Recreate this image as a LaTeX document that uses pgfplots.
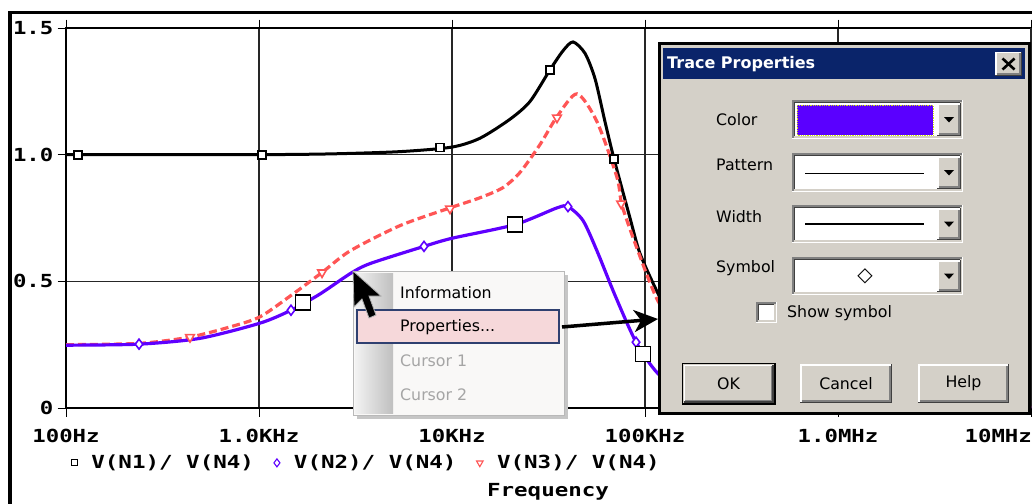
\documentclass[border=0pt]{standalone}
\usepackage{pgfplots}
\pgfplotsset{compat=1.18}
\usepackage{fontspec}
\usetikzlibrary{arrows.meta}
\newfontfamily\psfont[FakeStretch=1.24]{DejaVu Sans Mono}
\newfontfamily\lgfont[FakeStretch=1.25]{DejaVu Sans Mono}
\newfontfamily\winfont{DejaVu Sans}
\newcommand\psf{\psfont\bfseries\fontsize{18}{18}\selectfont}
\newcommand\lgf{\lgfont\bfseries\fontsize{18}{18}\selectfont}
\newcommand\wf{\winfont\fontsize{15.8}{16}\selectfont}
\definecolor{bluetr}{RGB}{95,0,255}
\definecolor{redtr}{RGB}{255,85,85}
\definecolor{dlg}{RGB}{212,208,200}
\definecolor{navy}{RGB}{10,36,106}
\definecolor{btnshadow}{RGB}{128,128,128}
\definecolor{btndark}{RGB}{64,64,64}
\definecolor{menubg}{RGB}{249,248,247}
\definecolor{hilite}{RGB}{246,216,218}
\definecolor{hiborder}{RGB}{47,64,112}
\definecolor{graytext}{RGB}{165,165,165}
\definecolor{purplebox}{RGB}{90,0,255}
\newcommand\sunken[4]{%
  \fill[white] (#1,#2) rectangle (#3,#4);
  \draw[btnshadow,line width=1.5pt] (#1+0.75,#4) -- (#1+0.75,#2+0.75) -- (#3,#2+0.75);
  \draw[btndark,line width=1.5pt] (#1+2.25,#4-1.5) -- (#1+2.25,#2+2.25) -- (#3-1.5,#2+2.25);
  \draw[white,line width=1.5pt] (#1,#4-0.75) -- (#3-0.75,#4-0.75) -- (#3-0.75,#2);
  \draw[dlg,line width=1.5pt] (#1+1.5,#4-2.25) -- (#3-2.25,#4-2.25) -- (#3-2.25,#2+1.5);
}
\newcommand\raised[4]{%
  \fill[dlg] (#1,#2) rectangle (#3,#4);
  \draw[white,line width=1.5pt] (#1+0.75,#4-1.5) -- (#1+0.75,#2+0.75) -- (#3-1.5,#2+0.75);
  \draw[btndark,line width=1.5pt] (#1,#4-0.75) -- (#3-0.75,#4-0.75) -- (#3-0.75,#2);
  \draw[btnshadow,line width=1.5pt] (#1+1.5,#4-2.25) -- (#3-2.25,#4-2.25) -- (#3-2.25,#2+1.5);
}
\newcommand\dropbtn[3]{%
  \raised{#1}{#2}{#1+24}{#3}
  \fill[black] (#1+7,{(#2+#3)/2-2.5}) -- (#1+17,{(#2+#3)/2-2.5}) -- (#1+12,{(#2+#3)/2+3}) -- cycle;
}
\begin{document}
\begin{tikzpicture}
\useasboundingbox (0,0) rectangle (1032pt,-503pt);
\begin{axis}[
  at={(66pt,-408pt)}, anchor=south west,
  scale only axis, width=965pt, height=380pt,
  xmode=log, xmin=100, xmax=1e7, ymin=0, ymax=1.5,
  xtick={100,1000,1e4,1e5,1e6},
  xticklabels={100Hz,1.0KHz,10KHz,100KHz,1.0MHz},
  extra x ticks={1e7}, extra x tick labels={10MHz},
  extra x tick style={xticklabel style={anchor=base east, xshift=1pt}},
  ytick={0,0.5,1,1.5}, yticklabels={0,0.5,1.0,1.5},
  minor tick num=0, log basis x=10,
  tick align=outside, major tick length=8.5pt,
  tick style={black, line width=1pt},
  grid=major, grid style={black!85, line width=1.1pt},
  axis line style={black, line width=1.1pt},
  ticklabel style={font=\psf, inner sep=0pt},
  xticklabel style={anchor=base, yshift=-26pt},
  yticklabel style={anchor=east, xshift=-4pt},
  /pgf/number format/assume math mode=true,
  xlabel={Frequency},
  xlabel style={font=\lgf, at={(axis description cs:0.4995,-0.221)}, anchor=center, inner sep=0pt},
  legend columns=3,
  legend style={draw=none, fill=none, font=\lgf, inner sep=0pt, outer sep=0pt,
    at={(axis description cs:0.0056,-0.1444)}, anchor=west,
    nodes={inner sep=0pt},
    /tikz/every odd column/.append style={column sep=14pt},
    /tikz/every even column/.append style={column sep=20pt}},
  legend image code/.code={\draw[#1] plot coordinates {(0pt,0pt)};},
]
% black V(N1)/V(N4)
\addplot[black, line width=3pt, smooth, tension=0.45, forget plot] coordinates {
 (100,1.0) (272,1.0) (1000,1.0) (2333,1.003) (5378,1.012) (10000,1.03) (13970,1.065)
 (19980,1.14) (25360,1.21) (32190,1.335) (37590,1.41) (42370,1.445) (48880,1.40)
 (55080,1.30) (62050,1.13) (69080,0.984) (83600,0.75) (94190,0.61) (115400,0.46)
 (134700,0.37) (192800,0.22) (349900,0.10) (1.153e6,0.02) (1e7,0.002)};
% red V(N3)/V(N4)
\addplot[redtr, line width=3.2pt, dash pattern=on 8pt off 4pt, smooth, tension=0.45, forget plot] coordinates {
 (100,0.25) (238.9,0.255) (439,0.28) (707.4,0.32) (1012,0.36) (1500,0.45) (2121,0.535)
 (2962,0.62) (5378,0.72) (9763,0.79) (13970,0.83) (18380,0.87) (22510,0.93) (28580,1.04)
 (34990,1.15) (44440,1.24)
 (56400,1.13) (71610,0.91) (76010,0.80) (90890,0.63) (115400,0.43) (151800,0.29)
 (244700,0.15) (635300,0.04) (1e7,0.002)};
% blue V(N2)/V(N4)
\addplot[bluetr, line width=3.2pt, smooth, tension=0.45, forget plot] coordinates {
 (100,0.248) (238.9,0.252) (494.7,0.275) (1012,0.335) (1465,0.386) (2070,0.45)
 (2962,0.53) (3759,0.57) (7161,0.638) (10000,0.67) (21200,0.724) (34990,0.79)
 (39900,0.795) (47720,0.74) (56400,0.62) (69920,0.445) (89830,0.26) (115400,0.14)
 (151800,0.08) (349900,0.03) (2.094e6,0.005) (1e7,0.001)};
% markers
\addplot[only marks, mark=square*, mark size=4pt, mark options={fill=white, draw=black, line width=1.8pt}, forget plot] coordinates {
 (115.4,1.0) (1036,1.0) (8665,1.028) (32190,1.335) (69080,0.984)};
\addplot[only marks, mark=diamond*, mark size=5pt, mark options={fill=white, draw=bluetr, line width=1.6pt}, forget plot] coordinates {
 (238.9,0.252) (1465,0.386) (7161,0.638) (39900,0.795) (89830,0.26)};
\addplot[only marks, mark=triangle*, mark size=5pt, mark options={fill=white, draw=redtr, line width=1.6pt, rotate=180}, forget plot] coordinates {
 (439,0.28) (2121,0.535) (9763,0.787) (34990,1.146) (75200,0.807)};
\addplot[only marks, mark=square*, mark size=7.5pt, mark options={fill=white, draw=black, line width=1.3pt}, forget plot] coordinates {
 (1690,0.417) (21180,0.724) (97700,0.213)};
% legend
\addlegendimage{only marks, mark=square*, mark size=3pt, mark options={fill=white, draw=black, line width=1.2pt}}
\addlegendentry{V(N1)/ V(N4)}
\addlegendimage{only marks, mark=diamond*, mark size=4pt, mark options={fill=white, draw=bluetr, line width=1.1pt}}
\addlegendentry{V(N2)/ V(N4)}
\addlegendimage{only marks, mark=triangle*, mark size=3.8pt, mark options={fill=white, draw=redtr, line width=1.1pt, rotate=180}}
\addlegendentry{V(N3)/ V(N4)}
\end{axis}
\begin{scope}[x=1pt,y=-1pt]
% window frame
\draw[black, line width=3.5pt] (10,510) -- (10,12.5) -- (1040,12.5);
% context menu
\fill[gray!45] (357,275) rectangle (568,419);
\fill[menubg] (353,271) rectangle (564,415);
\shade[left color=gray!10, right color=gray!50] (355,273) rectangle (393,413);
\draw[gray!55, line width=1pt] (353,271) rectangle (564,415);
\draw[hiborder, fill=hilite, line width=1.2pt] (357,310) rectangle (559,343);
\node[anchor=west, inner sep=0pt] at (400,293) {\wf Information};
\node[anchor=west, inner sep=0pt] at (400,327) {\wf Properties...};
\node[anchor=west, inner sep=0pt, text=graytext] at (400,361) {\wf Cursor 1};
\node[anchor=west, inner sep=0pt, text=graytext] at (400,395) {\wf Cursor 2};
% mouse pointer
\fill[black, draw=gray!60, line width=0.8pt] (353,271) -- (354,307) -- (362,299) -- (369,318) -- (376,315) -- (369,296) -- (381,296) -- cycle;
% dialog
\fill[dlg] (659,44) rectangle (1029,413);
\draw[black, line width=3pt] (659,44) rectangle (1029,413);
\fill[navy] (663,48) rectangle (1025,79);
\node[anchor=west, inner sep=0pt, text=white] at (667,64) {\winfont\bfseries\fontsize{16}{16}\selectfont Trace Properties};
\raised{995}{52}{1022}{76}
\draw[black, line width=2.6pt] (1002.5,58.5) -- (1014.5,69.5) (1014.5,58.5) -- (1002.5,69.5);
% labels
\node[anchor=west, inner sep=0pt] at (716,120) {\wf Color};
\node[anchor=west, inner sep=0pt] at (716,165) {\wf Pattern};
\node[anchor=west, inner sep=0pt] at (716,217) {\wf Width};
\node[anchor=west, inner sep=0pt] at (716,268) {\wf Symbol};
% combos
\sunken{792}{100}{963}{139}
\fill[purplebox] (797,105) rectangle (933,135);
\draw[yellow!80!green, densely dotted, line width=0.8pt] (797,105) rectangle (933,135);
\dropbtn{937}{103}{136}
\sunken{792}{153}{963}{192}
\draw[black, line width=1pt] (805,173) -- (924,173);
\dropbtn{937}{156}{189}
\sunken{792}{205}{963}{243}
\draw[black, line width=2.6pt] (805,224) -- (924,224);
\dropbtn{937}{208}{240}
\sunken{792}{257}{963}{295}
\node[inner sep=0pt] at (865,276) {\winfont\fontsize{20}{20}\selectfont ◇};
\dropbtn{937}{260}{292}
% checkbox
\sunken{756}{302}{777}{323}
\node[anchor=west, inner sep=0pt] at (787,313) {\wf Show symbol};
% buttons
\draw[black, line width=1.5pt] (682.25,363.25) rectangle (774.75,403.75);
\raised{683.5}{364.5}{773.5}{402.5}
\node at (728.5,383.5) {\wf OK};
\raised{800}{364}{892}{403}
\node at (846,383.5) {\wf Cancel};
\raised{918}{364}{1009}{403}
\node at (963.5,383.5) {\wf Help};
% arrow
\draw[black, line width=3.5pt, -{Stealth[length=24pt,width=22pt,inset=7pt]}] (562,327) -- (658,319);
\end{scope}
\end{tikzpicture}
\end{document}
